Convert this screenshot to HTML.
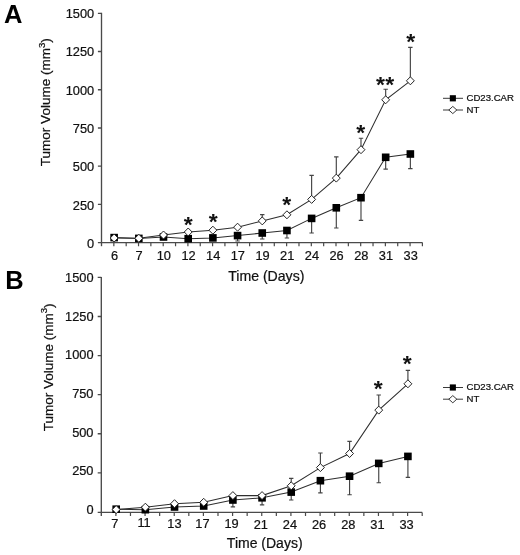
<!DOCTYPE html>
<html><head><meta charset="utf-8"><title>Tumor Volume</title>
<style>
html,body{margin:0;padding:0;background:#fff;}
body{width:520px;height:555px;overflow:hidden;font-family:"Liberation Sans",sans-serif;}
svg{display:block;will-change:transform;}
svg text{font-family:"Liberation Sans",sans-serif;fill:#111;stroke:#111;stroke-width:0.22px;}
svg .ns text{stroke:none;}
</style></head><body>
<svg width="520" height="555" viewBox="0 0 520 555">
<rect width="520" height="555" fill="#fff"/>
<g>
<g stroke="#4a4a4a" stroke-width="1.35" fill="none">
<path d="M101.5 12.8V246.2"/>
<path d="M97.9 242.6H422.4"/>
<path d="M97.9 204.38H101.5M97.9 166.17H101.5M97.9 127.95H101.5M97.9 89.73H101.5M97.9 51.52H101.5M97.9 13.3H101.5"/>
<path d="M113.84 242.6v3.6M126.18 242.6v3.6M138.53 242.6v3.6M150.87 242.6v3.6M163.21 242.6v3.6M175.55 242.6v3.6M187.9 242.6v3.6M200.24 242.6v3.6M212.58 242.6v3.6M224.92 242.6v3.6M237.27 242.6v3.6M249.61 242.6v3.6M261.95 242.6v3.6M274.29 242.6v3.6M286.63 242.6v3.6M298.98 242.6v3.6M311.32 242.6v3.6M323.66 242.6v3.6M336 242.6v3.6M348.35 242.6v3.6M360.69 242.6v3.6M373.03 242.6v3.6M385.37 242.6v3.6M397.72 242.6v3.6M410.06 242.6v3.6M422.4 242.6v3.6" stroke-width="1.2"/>
</g>
<g font-size="12.8" text-anchor="end">
<text x="94.2" y="247.85">0</text>
<text x="94.2" y="209.52">250</text>
<text x="94.2" y="171.18">500</text>
<text x="94.2" y="132.85">750</text>
<text x="94.2" y="94.52">1000</text>
<text x="94.2" y="56.18">1250</text>
<text x="94.2" y="17.85">1500</text>
</g>
<g font-size="12.8" text-anchor="middle">
<text x="114.44" y="260.3">6</text>
<text x="139.13" y="260.3">7</text>
<text x="163.81" y="260.3">10</text>
<text x="188.5" y="260.3">12</text>
<text x="213.18" y="260.3">14</text>
<text x="237.87" y="260.3">17</text>
<text x="262.55" y="260.3">19</text>
<text x="287.23" y="260.3">21</text>
<text x="311.92" y="260.3">24</text>
<text x="336.6" y="260.3">26</text>
<text x="361.29" y="260.3">28</text>
<text x="385.97" y="260.3">31</text>
<text x="410.66" y="260.3">33</text>
</g>
<text x="266.3" y="280.5" text-anchor="middle" font-size="14.1">Time (Days)</text>
<text transform="translate(50.1 102.2) rotate(-90)" text-anchor="middle" font-size="13.5">Tumor Volume (mm<tspan dy="-5.6" font-size="9.6">3</tspan><tspan dy="5.6">)</tspan></text>
<text x="4" y="23.1" font-size="25.5" font-weight="bold" style="fill:#000;stroke:none">A</text>
<path d="M262.25 220.9V214.6M260.05 214.6h4.4M311.62 199.4V175.4M309.42 175.4h4.4M336.3 178.1V156.8M334.1 156.8h4.4M360.99 149.7V138.2M358.79 138.2h4.4M385.67 99.8V89.2M383.47 89.2h4.4M410.36 80.8V47.3M408.16 47.3h4.4M237.57 235.6V241M235.37 241h4.4M262.25 233V239M260.05 239h4.4M286.93 230.5V238M284.73 238h4.4M311.62 218.4V233M309.42 233h4.4M336.3 207.8V228M334.1 228h4.4M360.99 197.7V220.4M358.79 220.4h4.4M385.67 157.3V169.1M383.47 169.1h4.4M410.36 154V168.6M408.16 168.6h4.4" stroke="#444" stroke-width="1.15" fill="none"/>
<polyline fill="none" stroke="#2e2e2e" stroke-width="1.05" points="114.14,237.6 138.83,238.4 163.51,237 188.2,238.7 212.88,237.9 237.57,235.6 262.25,233 286.93,230.5 311.62,218.4 336.3,207.8 360.99,197.7 385.67,157.3 410.36,154"/>
<polyline fill="none" stroke="#2e2e2e" stroke-width="1.05" points="114.14,238 138.83,238.3 163.51,235 188.2,232 212.88,230.2 237.57,227.2 262.25,220.9 286.93,214.8 311.62,199.4 336.3,178.1 360.99,149.7 385.67,99.8 410.36,80.8"/>
<g fill="#000">
<rect x="110.34" y="233.8" width="7.6" height="7.6"/>
<rect x="135.03" y="234.6" width="7.6" height="7.6"/>
<rect x="159.71" y="233.2" width="7.6" height="7.6"/>
<rect x="184.4" y="234.9" width="7.6" height="7.6"/>
<rect x="209.08" y="234.1" width="7.6" height="7.6"/>
<rect x="233.77" y="231.8" width="7.6" height="7.6"/>
<rect x="258.45" y="229.2" width="7.6" height="7.6"/>
<rect x="283.13" y="226.7" width="7.6" height="7.6"/>
<rect x="307.82" y="214.6" width="7.6" height="7.6"/>
<rect x="332.5" y="204" width="7.6" height="7.6"/>
<rect x="357.19" y="193.9" width="7.6" height="7.6"/>
<rect x="381.87" y="153.5" width="7.6" height="7.6"/>
<rect x="406.56" y="150.2" width="7.6" height="7.6"/>
</g>
<g fill="#fff" stroke="#1a1a1a" stroke-width="0.95">
<path d="M114.14 234l3.95 4l-3.95 4l-3.95 -4z"/>
<path d="M138.83 234.3l3.95 4l-3.95 4l-3.95 -4z"/>
<path d="M163.51 231l3.95 4l-3.95 4l-3.95 -4z"/>
<path d="M188.2 228l3.95 4l-3.95 4l-3.95 -4z"/>
<path d="M212.88 226.2l3.95 4l-3.95 4l-3.95 -4z"/>
<path d="M237.57 223.2l3.95 4l-3.95 4l-3.95 -4z"/>
<path d="M262.25 216.9l3.95 4l-3.95 4l-3.95 -4z"/>
<path d="M286.93 210.8l3.95 4l-3.95 4l-3.95 -4z"/>
<path d="M311.62 195.4l3.95 4l-3.95 4l-3.95 -4z"/>
<path d="M336.3 174.1l3.95 4l-3.95 4l-3.95 -4z"/>
<path d="M360.99 145.7l3.95 4l-3.95 4l-3.95 -4z"/>
<path d="M385.67 95.8l3.95 4l-3.95 4l-3.95 -4z"/>
<path d="M410.36 76.8l3.95 4l-3.95 4l-3.95 -4z"/>
</g>
<g class="ns" font-size="23" font-weight="bold" text-anchor="middle" fill="#000">
<text transform="translate(188.2 232.39) scale(1 0.92)">*</text>
<text transform="translate(213.3 229.39) scale(1 0.92)">*</text>
<text transform="translate(286.8 211.89) scale(1 0.92)">*</text>
<text transform="translate(360.6 139.59) scale(1 0.92)">*</text>
<text transform="translate(380.38 91.89) scale(1 0.92)">*</text>
<text transform="translate(389.82 91.89) scale(1 0.92)">*</text>
<text transform="translate(410.6 49.29) scale(1 0.92)">*</text>
</g>
<path d="M443 98.3H463M443 110H463" stroke="#3a3a3a" stroke-width="1" fill="none"/>
<rect x="449.8" y="95.2" width="6.1" height="6.2" fill="#000"/>
<path d="M452.8 106.4l4 3.6l-4 3.6l-4 -3.6z" fill="#fff" stroke="#222" stroke-width="0.9"/>
<text x="466.5" y="101.1" font-size="9.6">CD23.CAR</text>
<text x="466.5" y="112.8" font-size="9.6">NT</text>
</g>
<g>
<g stroke="#4a4a4a" stroke-width="1.35" fill="none">
<path d="M101.3 276.9V516"/>
<path d="M97.7 512.4H422.2"/>
<path d="M97.7 472.82H101.3M97.7 433.73H101.3M97.7 394.65H101.3M97.7 355.57H101.3M97.7 316.48H101.3M97.7 277.4H101.3"/>
<path d="M115.89 512.4v3.6M130.47 512.4v3.6M145.06 512.4v3.6M159.65 512.4v3.6M174.23 512.4v3.6M188.82 512.4v3.6M203.4 512.4v3.6M217.99 512.4v3.6M232.58 512.4v3.6M247.16 512.4v3.6M261.75 512.4v3.6M276.34 512.4v3.6M290.92 512.4v3.6M305.51 512.4v3.6M320.1 512.4v3.6M334.68 512.4v3.6M349.27 512.4v3.6M363.85 512.4v3.6M378.44 512.4v3.6M393.03 512.4v3.6M407.61 512.4v3.6M422.2 512.4v3.6" stroke-width="1.2"/>
</g>
<g font-size="12.8" text-anchor="end">
<text x="93.5" y="514.15">0</text>
<text x="93.5" y="475.43">250</text>
<text x="93.5" y="436.72">500</text>
<text x="93.5" y="398">750</text>
<text x="93.5" y="359.28">1000</text>
<text x="93.5" y="320.57">1250</text>
<text x="93.5" y="281.85">1500</text>
</g>
<g font-size="12.8" text-anchor="middle">
<text x="114.89" y="527.5">7</text>
<text x="144.06" y="526.6">11</text>
<text x="174.43" y="528.3">13</text>
<text x="202.4" y="527.8">17</text>
<text x="231.58" y="528.4">19</text>
<text x="260.75" y="528.6">21</text>
<text x="289.92" y="528.6">24</text>
<text x="319.1" y="528.6">26</text>
<text x="348.27" y="528.6">28</text>
<text x="377.44" y="528.6">31</text>
<text x="406.61" y="528.6">33</text>
</g>
<text x="264.7" y="547.9" text-anchor="middle" font-size="14">Time (Days)</text>
<text transform="translate(52.6 367.4) rotate(-90)" text-anchor="middle" font-size="13.5">Tumor Volume (mm<tspan dy="-5.6" font-size="9.6">3</tspan><tspan dy="5.6">)</tspan></text>
<text x="5.2" y="288.7" font-size="25.5" font-weight="bold" style="fill:#000;stroke:none">B</text>
<path d="M291.22 485.8V478.3M289.02 478.3h4.4M320.4 467.6V453M318.2 453h4.4M349.57 453.5V441.4M347.37 441.4h4.4M378.74 410.1V395M376.54 395h4.4M407.91 383.8V370.4M405.71 370.4h4.4M232.88 500V506.8M230.68 506.8h4.4M262.05 497.8V504.8M259.85 504.8h4.4M291.22 492.1V500M289.02 500h4.4M320.4 480.7V492.8M318.2 492.8h4.4M349.57 476.2V494.7M347.37 494.7h4.4M378.74 463.4V482.7M376.54 482.7h4.4M407.91 456.4V477.3M405.71 477.3h4.4" stroke="#444" stroke-width="1.15" fill="none"/>
<polyline fill="none" stroke="#2e2e2e" stroke-width="1.05" points="116.19,509.2 145.36,509.7 174.53,507 203.7,506 232.88,500 262.05,497.8 291.22,492.1 320.4,480.7 349.57,476.2 378.74,463.4 407.91,456.4"/>
<polyline fill="none" stroke="#2e2e2e" stroke-width="1.05" points="116.19,509.6 145.36,507.2 174.53,503.7 203.7,502.3 232.88,495.6 262.05,495.6 291.22,485.8 320.4,467.6 349.57,453.5 378.74,410.1 407.91,383.8"/>
<g fill="#000">
<rect x="112.39" y="505.4" width="7.6" height="7.6"/>
<rect x="141.56" y="505.9" width="7.6" height="7.6"/>
<rect x="170.73" y="503.2" width="7.6" height="7.6"/>
<rect x="199.9" y="502.2" width="7.6" height="7.6"/>
<rect x="229.08" y="496.2" width="7.6" height="7.6"/>
<rect x="258.25" y="494" width="7.6" height="7.6"/>
<rect x="287.42" y="488.3" width="7.6" height="7.6"/>
<rect x="316.6" y="476.9" width="7.6" height="7.6"/>
<rect x="345.77" y="472.4" width="7.6" height="7.6"/>
<rect x="374.94" y="459.6" width="7.6" height="7.6"/>
<rect x="404.11" y="452.6" width="7.6" height="7.6"/>
</g>
<g fill="#fff" stroke="#1a1a1a" stroke-width="0.95">
<path d="M116.19 505.6l3.95 4l-3.95 4l-3.95 -4z"/>
<path d="M145.36 503.2l3.95 4l-3.95 4l-3.95 -4z"/>
<path d="M174.53 499.7l3.95 4l-3.95 4l-3.95 -4z"/>
<path d="M203.7 498.3l3.95 4l-3.95 4l-3.95 -4z"/>
<path d="M232.88 491.6l3.95 4l-3.95 4l-3.95 -4z"/>
<path d="M262.05 491.6l3.95 4l-3.95 4l-3.95 -4z"/>
<path d="M291.22 481.8l3.95 4l-3.95 4l-3.95 -4z"/>
<path d="M320.4 463.6l3.95 4l-3.95 4l-3.95 -4z"/>
<path d="M349.57 449.5l3.95 4l-3.95 4l-3.95 -4z"/>
<path d="M378.74 406.1l3.95 4l-3.95 4l-3.95 -4z"/>
<path d="M407.91 379.8l3.95 4l-3.95 4l-3.95 -4z"/>
</g>
<g class="ns" font-size="23" font-weight="bold" text-anchor="middle" fill="#000">
<text transform="translate(378.3 395.69) scale(1 0.92)">*</text>
<text transform="translate(407.2 370.69) scale(1 0.92)">*</text>
</g>
<path d="M443 387.5H463M443 399.2H463" stroke="#3a3a3a" stroke-width="1" fill="none"/>
<rect x="449.8" y="384.4" width="6.1" height="6.2" fill="#000"/>
<path d="M452.8 395.6l4 3.6l-4 3.6l-4 -3.6z" fill="#fff" stroke="#222" stroke-width="0.9"/>
<text x="466.5" y="390.3" font-size="9.6">CD23.CAR</text>
<text x="466.5" y="402" font-size="9.6">NT</text>
</g>
</svg>
</body></html>
